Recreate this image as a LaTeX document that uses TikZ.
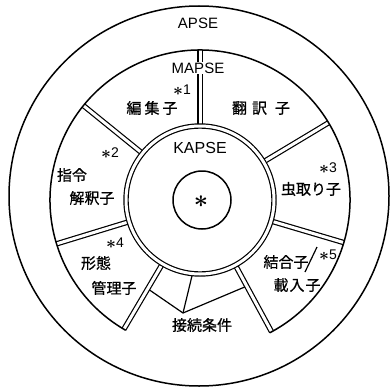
\documentclass[tikz,border=0pt]{standalone}
\usepackage{fontspec}
\setmainfont{Liberation Sans}
\newfontfamily\jp[FakeBold=0.8]{Noto Sans CJK JP}
\newcommand{\bigast}{\raisebox{-0.5pt}{\fontsize{18}{18}\selectfont$\ast$}}
\begin{document}
\begin{tikzpicture}[x=1pt,y=1pt,
  ring/.style={line width=1.5pt},
  dbl/.style={double, double distance=3pt, line width=1.2pt},
  thinline/.style={line width=1.2pt},
  lat/.style={font=\fontsize{15}{15}\selectfont, inner sep=1pt},
  jtext/.style={font=\jp\fontsize{15}{15}\selectfont, inner sep=0pt},
  starlbl/.style={font=\boldmath\fontsize{14}{14}\selectfont, inner sep=0pt}
]
\useasboundingbox (0,0) rectangle (390,389);
\coordinate (C) at (200,189);
\coordinate (AC) at (199,193);
\begin{scope}[shift={(200,189)}]
  \foreach \a/\n in {90/t,141/ul,197/l,239.5/bl,298.5/br,343.5/r,31/ur} {
    \coordinate (i\n) at (\a:75);
    \coordinate (o\n) at (\a:150);
  }
  \coordinate (pa) at (239.5:103);
  \coordinate (pb) at (298.5:98);
  \coordinate (pq) at (264:76);
\end{scope}
\coordinate (apex) at (183,76);
% interface lines
\draw[thinline] (pa) -- (apex) -- (pb);
\draw[thinline] (apex) -- (pq);
% spokes
\foreach \n in {t,ul,l,bl,br,r,ur} {
  \draw[dbl] (i\n) -- (o\n);
}
% circles
\draw[ring] (AC) circle[radius=190];
\draw[ring] (C) ++(297.7:150) arc[start angle=297.7, end angle=600.3, radius=150];
\draw[dbl] (C) circle[radius=74];
\draw[ring] (202,189) circle[radius=29];
% labels
\node[lat] (apse) at (198,366) {APSE};
\node[lat, fill=white, inner sep=1pt] (mapse) at (198,321) {MAPSE};
\node[lat, font=\fontsize{16}{16}\selectfont] (kapse) at (200,241) {KAPSE};
\node[inner sep=0pt, font=\boldmath\fontsize{32}{32}\selectfont] (core) at (201,187) {$\ast$};
\node[starlbl] (s1) at (182,299) {\bigast1};
\node[starlbl] (s2) at (110,236) {\bigast2};
\node[starlbl] (s3) at (328,221) {\bigast3};
\node[starlbl] (s4) at (115,146) {\bigast4};
\node[starlbl] (s5) at (328,134) {\bigast5};
\node[jtext] (edit) at (152,281) {編\hspace{3pt}集\hspace{3pt}子};
\node[jtext] (trans) at (261,281) {翻\hspace{5pt}訳\hspace{8pt}子};
\node[jtext] (cmd1) at (72,214) {指令};
\node[jtext] (cmd2) at (92,191) {解釈子};
\node[jtext] (dbg) at (311,200) {虫取り子};
\node[jtext] (cfg1) at (96,126) {形態};
\node[jtext] (cfg2) at (114,101) {管理子};
\node[jtext] (lnk) at (286,127) {結合子};
\node[jtext] (ldr) at (297,104) {載\hspace{1pt}入\hspace{1pt}子};
\node[jtext] (ifc) at (202,64) {接続条件};
\coordinate (slA) at (305,117);
\coordinate (slB) at (317,142);
\draw[thinline] (slA) -- (slB);
\end{tikzpicture}
\end{document}
